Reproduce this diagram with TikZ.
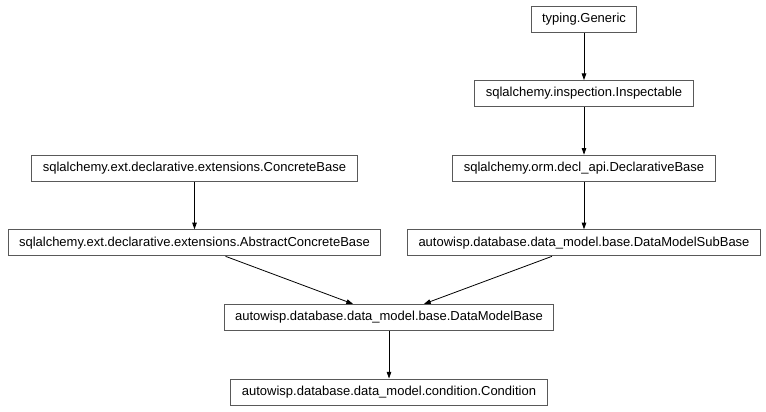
\documentclass[tikz,border=0pt]{standalone}
\usepackage{fontspec}
\setmainfont{Liberation Sans}
\usetikzlibrary{arrows.meta}
\begin{document}
\begin{tikzpicture}[x=0.75pt,y=-0.75pt,
  cls/.style={draw=black!65,line width=0.75pt,fill=white,inner xsep=8.25pt,inner ysep=0pt,
    minimum height=19.5pt,font=\fontsize{9.75}{11.7}\selectfont,anchor=center},
  inh/.style={draw=black,line width=0.6pt,-{Triangle[length=5pt,width=3.4pt]}}]
\useasboundingbox (0,0) rectangle (766,411);
\node[cls] (gen) at (584,19) {typing.Generic};
\node[cls] (insp) at (584,93.6) {sqlalchemy.inspection.Inspectable};
\node[cls] (decl) at (584,168.2) {sqlalchemy.orm.decl\_api.DeclarativeBase};
\node[cls] (sub) at (584,242.8) {autowisp.database.data\_model.base.DataModelSubBase};
\node[cls] (conc) at (194.5,168.2) {sqlalchemy.ext.declarative.extensions.ConcreteBase};
\node[cls] (abs) at (194.5,242.8) {sqlalchemy.ext.declarative.extensions.AbstractConcreteBase};
\node[cls] (dmb) at (389,317.4) {autowisp.database.data\_model.base.DataModelBase};
\node[cls] (cond) at (389,392) {autowisp.database.data\_model.condition.Condition};
\draw[inh] (gen) -- (insp);
\draw[inh] (insp) -- (decl);
\draw[inh] (decl) -- (sub);
\draw[inh] (conc) -- (abs);
\draw[inh] ([xshift=31pt*0.75]abs.south) -- ([xshift=-36pt*0.75]dmb.north);
\draw[inh] ([xshift=-32pt*0.75]sub.south) -- ([xshift=35pt*0.75]dmb.north);
\draw[inh] (dmb) -- (cond);
\end{tikzpicture}
\end{document}
